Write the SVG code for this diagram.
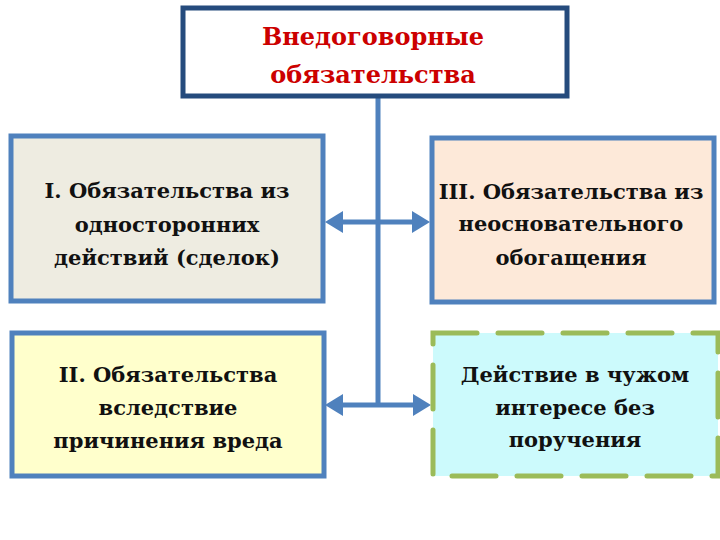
<svg xmlns="http://www.w3.org/2000/svg" width="720" height="540" viewBox="0 0 720 540">
<defs>
<style>
.t{font-family:'DejaVu Serif',serif;font-weight:bold;text-anchor:middle;}
.nt{font-size:21px;fill:#111111;}
.tt{font-size:24px;fill:#cc0000;}
.box{stroke:#4f81bd;stroke-width:5;}
.con{stroke:#4f81bd;stroke-width:5;fill:none;}
.ah{fill:#4f81bd;}
</style>
</defs>
<rect width="720" height="540" fill="#ffffff"/>
<g id="connectors">
<line class="con" x1="378" y1="97" x2="378" y2="407"/>
<line class="con" x1="340" y1="222" x2="414" y2="222"/>
<polygon class="ah" points="325,222 343,211 343,233"/>
<polygon class="ah" points="430,222 412,211 412,233"/>
<line class="con" x1="340" y1="405" x2="414" y2="405"/>
<polygon class="ah" points="325,405 343,394 343,416"/>
<polygon class="ah" points="431,405 413,394 413,416"/>
</g>
<g id="root">
<rect x="183" y="8" width="384" height="88" fill="#ffffff" stroke="#254b7d" stroke-width="5"/>
<text class="t tt" x="373" y="45">Внедоговорные</text>
<text class="t tt" x="373" y="83">обязательства</text>
</g>
<g id="node1">
<rect class="box" x="11" y="136" width="312" height="165" fill="#eeece1"/>
<text class="t nt" x="167" y="198">I. Обязательства из</text>
<text class="t nt" x="167" y="232">односторонних</text>
<text class="t nt" x="167" y="265">действий (сделок)</text>
</g>
<g id="node3">
<rect class="box" x="432" y="138" width="282" height="164" fill="#fde9d9"/>
<text class="t nt" x="571" y="199">III. Обязательства из</text>
<text class="t nt" x="571" y="231">неосновательного</text>
<text class="t nt" x="571" y="265">обогащения</text>
</g>
<g id="node2">
<rect class="box" x="12" y="333" width="312" height="143" fill="#ffffcc"/>
<text class="t nt" x="168" y="382">II. Обязательства</text>
<text class="t nt" x="168" y="415">вследствие</text>
<text class="t nt" x="168" y="448">причинения вреда</text>
</g>
<g id="node4">
<rect x="433" y="333" width="285" height="143" fill="#ccfafc" stroke="#9bbb59" stroke-width="5" stroke-dasharray="44 21" stroke-linecap="round"/>
<text class="t nt" x="575" y="382">Действие в чужом</text>
<text class="t nt" x="575" y="415">интересе без</text>
<text class="t nt" x="575" y="447">поручения</text>
</g>
</svg>
